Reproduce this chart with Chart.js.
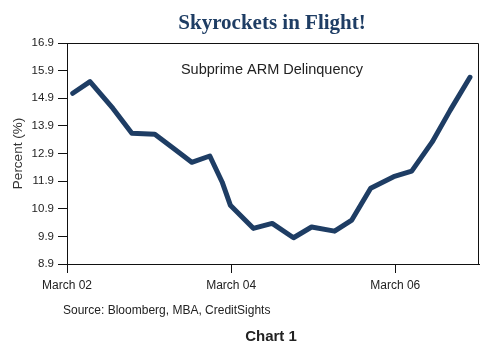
<!DOCTYPE html>
<html>
<head>
<meta charset="utf-8">
<script src="https://cdn.jsdelivr.net/npm/chart.js@4/dist/chart.umd.min.js"></script>
<style>
  html, body { margin: 0; padding: 0; background: #fff; }
  #wrap { width: 504px; height: 354px; position: relative; }
</style>
</head>
<body>
<div id="wrap"><canvas id="chart" width="504" height="354"></canvas></div>
<script>
// years since March 2002
const xYears = [0.07, 0.28, 0.56, 0.79, 1.07, 1.30, 1.52, 1.74, 1.89, 1.99, 2.27,
  2.50, 2.76, 2.98, 3.26, 3.47, 3.70, 3.98, 4.20, 4.45, 4.67, 4.91];
const delinquency = [15.08, 15.50, 14.53, 13.63, 13.60, 13.08, 12.58, 12.81, 11.87, 11.03, 10.19,
  10.37, 9.85, 10.24, 10.09, 10.49, 11.64, 12.06, 12.26, 13.32, 14.47, 15.66];
const yTicks = [8.9, 9.9, 10.9, 11.9, 12.9, 13.9, 14.9, 15.9, 16.9];
const xTicks = [0, 2, 4];
const xTickLabels = ['March 02', 'March 04', 'March 06'];

const NAVY = '#1e3d64';
const SANS = '"Liberation Sans", Arial, sans-serif';

let points = xYears.map((x, i) => ({x: x, y: delinquency[i]}));

// texts and the box round the plot
const decor = {
  id: 'decor',
  afterDraw(chart) {
    let ctx = chart.ctx;
    let a = chart.chartArea;
    ctx.save();
    ctx.strokeStyle = '#111';
    ctx.lineWidth = 1;
    ctx.beginPath();
    ctx.moveTo(a.left, a.top + 0.5);
    ctx.lineTo(a.right - 0.5, a.top + 0.5);
    ctx.lineTo(a.right - 0.5, a.bottom);
    ctx.stroke();

    ctx.textAlign = 'center';
    ctx.textBaseline = 'middle';
    ctx.fillStyle = NAVY;
    ctx.font = 'bold 21px "Liberation Serif", "DejaVu Serif", serif';
    ctx.fillText('Skyrockets in Flight!', 272, 24);

    ctx.fillStyle = '#222';
    ctx.font = '14.5px ' + SANS;
    ctx.fillText('Subprime ARM Delinquency', 272, 70);

    ctx.textAlign = 'left';
    ctx.font = '12px ' + SANS;
    ctx.fillText('Source: Bloomberg, MBA, CreditSights', 63, 311);

    ctx.textAlign = 'center';
    ctx.font = 'bold 15px ' + SANS;
    ctx.fillText('Chart 1', 271, 337);
    ctx.restore();
  }
};

new Chart(document.getElementById('chart'), {
  type: 'line',
  data: {
    datasets: [{
      data: points,
      borderColor: NAVY,
      borderWidth: 5,
      borderJoinStyle: 'round',
      borderCapStyle: 'round',
      pointRadius: 0,
      tension: 0,
      fill: false
    }]
  },
  options: {
    responsive: false,
    animation: false,
    events: [],
    layout: { padding: { top: 43, right: 25, bottom: 60, left: 0 } },
    plugins: { legend: { display: false }, tooltip: { enabled: false } },
    scales: {
      x: {
        type: 'linear',
        min: 0,
        max: 5.02,
        afterBuildTicks: s => { s.ticks = xTicks.map(v => ({value: v})); },
        afterFit: s => { s.height = 30; },
        ticks: {
          autoSkip: false,
          maxRotation: 0,
          padding: 5,
          color: '#222',
          font: { family: SANS, size: 12 },
          callback: (v) => xTickLabels[xTicks.indexOf(v)]
        },
        grid: { drawOnChartArea: false, drawTicks: true, tickLength: 9, color: '#111' },
        border: { display: true, color: '#111', width: 1 }
      },
      y: {
        min: 8.9,
        max: 16.9,
        afterBuildTicks: s => { s.ticks = yTicks.map(v => ({value: v})); },
        afterFit: s => { s.width = 67; },
        ticks: {
          padding: 4,
          color: '#222',
          font: { family: SANS, size: 11.5 },
          callback: v => v.toFixed(1)
        },
        grid: { drawOnChartArea: false, drawTicks: true, tickLength: 9, color: '#111' },
        border: { display: true, color: '#111', width: 1 },
        title: {
          display: true,
          text: 'Percent (%)',
          color: '#333',
          font: { family: SANS, size: 13.5 },
          padding: { top: 10, bottom: 0 }
        }
      }
    }
  },
  plugins: [decor]
});
</script>
</body>
</html>
